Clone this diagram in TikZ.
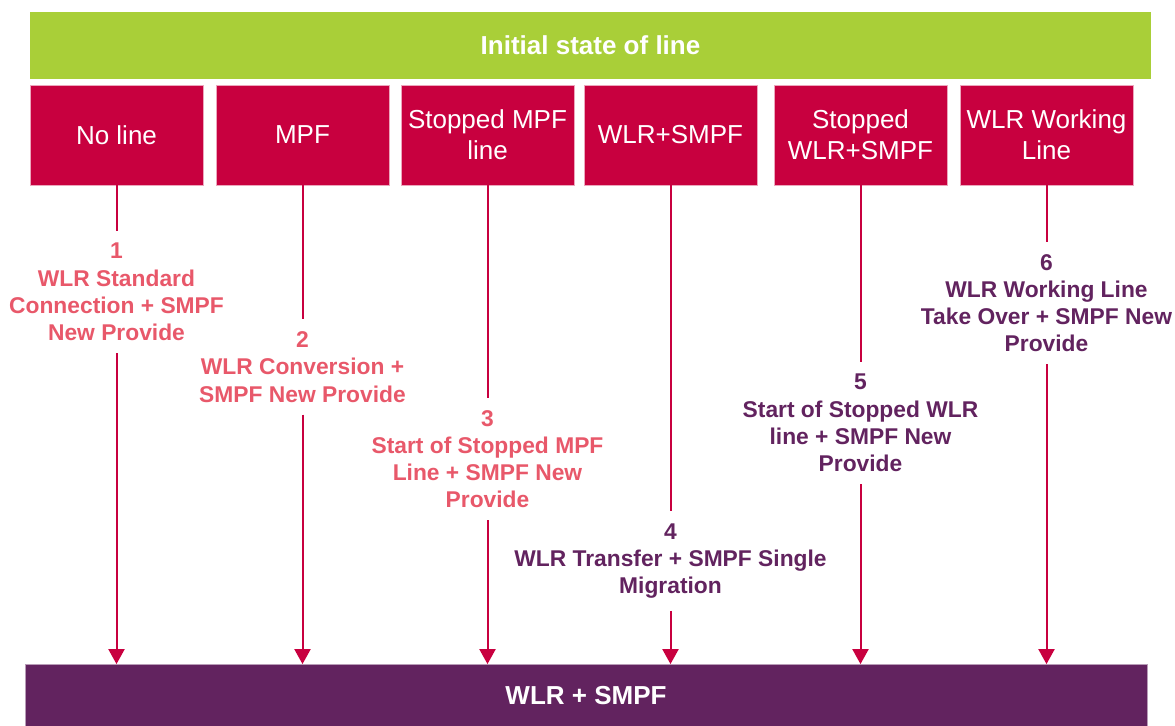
\documentclass[tikz,border=0pt]{standalone}
\usepackage{fontspec}
\setmainfont{Liberation Sans}
\usetikzlibrary{arrows.meta, positioning, calc}

\definecolor{linegreen}{RGB}{169,207,56}
\definecolor{boxred}{RGB}{200,0,63}
\definecolor{labpink}{RGB}{232,88,106}
\definecolor{plum}{RGB}{98,35,95}

\begin{document}
\begin{tikzpicture}[x=0.5pt, y=-0.5pt,
    state/.style={fill=boxred, draw=boxred!35!white, line width=0.4pt, text=white,
        minimum width=86.5pt, minimum height=50pt, inner sep=0pt, align=center,
        font=\fontsize{13}{15.5}\selectfont},
    bar/.style={text=white, inner sep=0pt, font=\bfseries\fontsize{13}{15}\selectfont},
    move/.style={font=\bfseries\fontsize{11.4}{13.6}\selectfont, align=center,
        inner xsep=0pt, inner ysep=6pt},
    flow/.style={boxred, line width=1pt},
    flowtip/.style={flow, -{Triangle[width=8pt, length=7.5pt]}}]
    \useasboundingbox (0,0) rectangle (1175,725);

    % Bars
    \node[bar, fill=linegreen, minimum width=560.5pt, minimum height=33.5pt] (init) at (590.5,45.5) {Initial state of line};
    \node[bar, fill=plum, draw=plum!45!white, line width=0.4pt, minimum width=561pt, minimum height=31pt] (target) at (586,695.5) {WLR + SMPF};

    % Initial states
    \node[state] (noline) at (116.5,135) {No line};
    \node[state] (mpf) at (302.5,135) {MPF};
    \node[state] (stopmpf) at (487.5,135) {Stopped MPF\\line};
    \node[state] (wlrsmpf) at (670.5,135) {WLR+SMPF};
    \node[state] (stopwlr) at (860.5,135) {Stopped\\WLR+SMPF};
    \node[state] (working) at (1046.5,135) {WLR Working\\Line};

    % Journeys
    \node[move, labpink] (j1) at (116.5,292) {1\\WLR Standard\\Connection + SMPF\\New Provide};
    \node[move, labpink] (j2) at (302.5,367) {2\\WLR Conversion +\\SMPF New Provide};
    \node[move, labpink] (j3) at (487.5,459) {3\\Start of Stopped MPF\\Line + SMPF New\\Provide};
    \node[move, plum] (j4) at (670.5,561) {4\\WLR Transfer + SMPF Single\\Migration};
    \node[move, plum] (j5) at (860.5,423) {5\\Start of Stopped WLR\\line + SMPF New\\Provide};
    \node[move, plum] (j6) at (1046.5,303) {6\\WLR Working Line\\Take Over + SMPF New\\Provide};

    % Connectors
    \foreach \s/\j in {noline/j1, mpf/j2, stopmpf/j3, wlrsmpf/j4, stopwlr/j5, working/j6} {
        \draw[flow] (\s.south) -- (\s.south |- \j.north);
        \draw[flowtip] (\s.south |- \j.south) -- (\s.south |- target.north);
    }

\end{tikzpicture}
\end{document}
